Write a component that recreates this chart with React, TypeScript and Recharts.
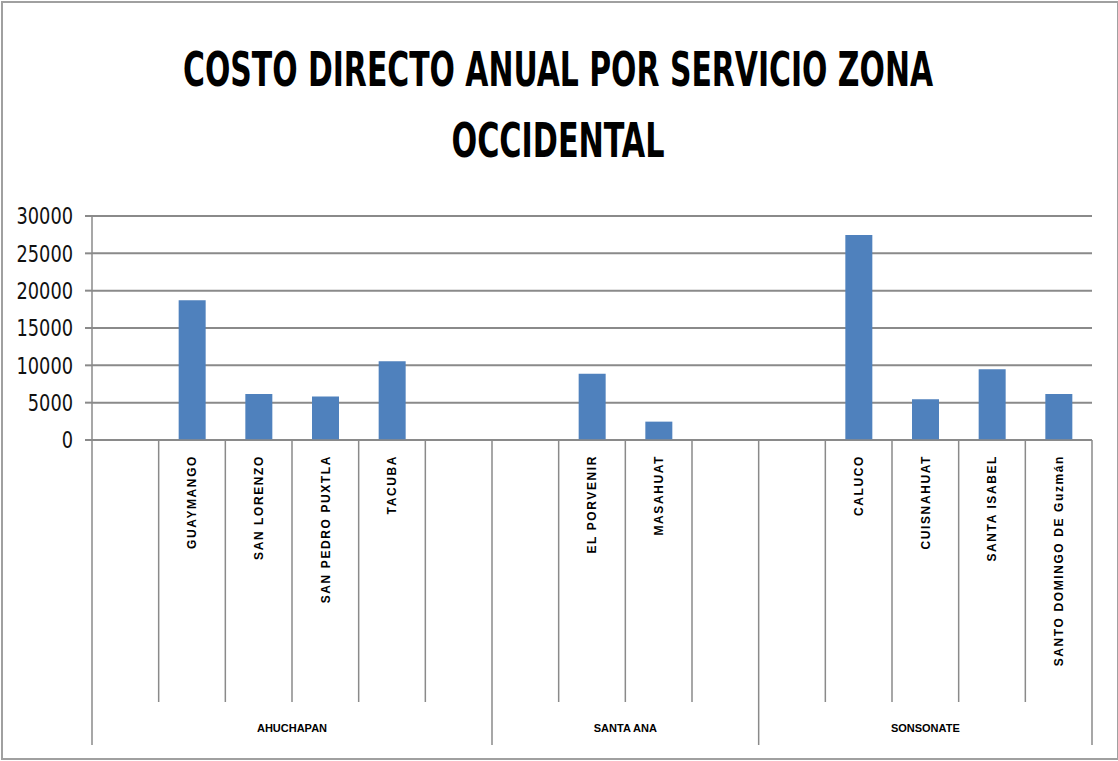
import React from "react";
import { BarChart, Bar, XAxis, YAxis, CartesianGrid } from "recharts";

// municipios, with empty slots where the original sheet has blank rows
const municipios = [
  "",
  "GUAYMANGO",
  "SAN LORENZO",
  "SAN PEDRO PUXTLA",
  "TACUBA",
  "",
  "",
  "EL PORVENIR",
  "MASAHUAT",
  "",
  "",
  "CALUCO",
  "CUISNAHUAT",
  "SANTA ISABEL",
  "SANTO DOMINGO DE Guzmán",
];
const costos = [
  null, 18700, 6170, 5810, 10550, null, null, 8860, 2460, null, null, 27450,
  5450, 9470, 6170,
];
const departamentos = ["AHUCHAPAN", "SANTA ANA", "SONSONATE"];
const departamentoSlots = [6, 4, 5];
const yTicks = [0, 5000, 10000, 15000, 20000, 25000, 30000];

const data = municipios.map((m, i) => ({ key: i, name: m, costo: costos[i] }));

const groupStarts: Record<number, number> = {};
let acc = 0;
departamentoSlots.forEach((n, g) => {
  groupStarts[acc] = g;
  acc += n;
});

const GRID = "#8a8a8a";
const LABEL_FONT = "'Liberation Sans', Arial, sans-serif";
const NARROW_FONT =
  "'Liberation Sans Narrow', 'DejaVu Sans Condensed', 'Liberation Sans', sans-serif";
const AXIS_Y = 440;

function XTick(props: any) {
  const { x, payload } = props;
  const i = payload.index;
  const half = payload.offset;
  const left = x - half;
  const g = groupStarts[i];
  const label = municipios[i];
  return (
    <g>
      {g === undefined ? (
        <line x1={left} y1={AXIS_Y} x2={left} y2={702} stroke={GRID} strokeWidth={1.5} />
      ) : (
        <>
          <line x1={left} y1={AXIS_Y} x2={left} y2={745} stroke={GRID} strokeWidth={1.5} />
          <text
            x={left + departamentoSlots[g] * half}
            y={732}
            textAnchor="middle"
            fontFamily={LABEL_FONT}
            fontWeight="bold"
            fontSize={11}
            fill="#000"
          >
            {departamentos[g]}
          </text>
        </>
      )}
      {i === municipios.length - 1 && (
        <line x1={x + half} y1={AXIS_Y} x2={x + half} y2={745} stroke={GRID} strokeWidth={1.5} />
      )}
      {label && (
        <text
          x={x}
          y={455}
          dy="0.36em"
          transform={`rotate(-90, ${x}, 455)`}
          textAnchor="end"
          fontFamily={LABEL_FONT}
          fontWeight="bold"
          fontSize={12}
          letterSpacing={1.6}
          fill="#000"
        >
          {label}
        </text>
      )}
    </g>
  );
}

function YTick(props: any) {
  const { y, payload } = props;
  const s = String(payload.value);
  return (
    <text
      x={73}
      y={y}
      dy="0.36em"
      textAnchor="end"
      fontFamily={NARROW_FONT}
      fontSize={23}
      textLength={s.length * 11.3}
      lengthAdjust="spacingAndGlyphs"
      fill="#111"
    >
      {s}
    </text>
  );
}

export default function App() {
  return (
    <div
      style={{
        position: "absolute",
        left: 0,
        top: 0,
        width: 1118,
        height: 761,
        background: "#fff",
      }}
    >
      <div
        style={{
          position: "absolute",
          left: 1,
          top: 1,
          width: 1114,
          height: 755,
          border: "2px solid #a0a0a0",
        }}
      />
      <svg
        width={1118}
        height={200}
        style={{ position: "absolute", left: 0, top: 0 }}
      >
        <text
          x={558}
          y={86}
          textAnchor="middle"
          fontFamily={NARROW_FONT}
          fontWeight="bold"
          fontSize={48}
          textLength={750}
          lengthAdjust="spacingAndGlyphs"
          fill="#000"
        >
          COSTO DIRECTO ANUAL POR SERVICIO ZONA
        </text>
        <text
          x={558}
          y={157}
          textAnchor="middle"
          fontFamily={NARROW_FONT}
          fontWeight="bold"
          fontSize={48}
          textLength={213}
          lengthAdjust="spacingAndGlyphs"
          fill="#000"
        >
          OCCIDENTAL
        </text>
      </svg>
      <div style={{ position: "absolute", left: 0, top: 0 }}>
        <BarChart
          width={1118}
          height={761}
          data={data}
          margin={{ top: 216, right: 26, bottom: 281, left: 12 }}
          barSize={27}
        >
          <CartesianGrid
            vertical={false}
            stroke={GRID}
            strokeWidth={2}
            strokeDasharray=""
          />
          <XAxis
            dataKey="key"
            type="category"
            interval={0}
            tick={<XTick />}
            tickLine={false}
            axisLine={{ stroke: GRID, strokeWidth: 1.5 }}
            height={40}
          />
          <YAxis
            width={80}
            domain={[0, 30000]}
            ticks={yTicks}
            interval={0}
            tick={<YTick />}
            tickSize={7}
            tickLine={{ stroke: GRID, strokeWidth: 2 }}
            axisLine={{ stroke: GRID, strokeWidth: 1.5 }}
          />
          <Bar dataKey="costo" fill="#4f81bd" isAnimationActive={false} />
        </BarChart>
      </div>
    </div>
  );
}
